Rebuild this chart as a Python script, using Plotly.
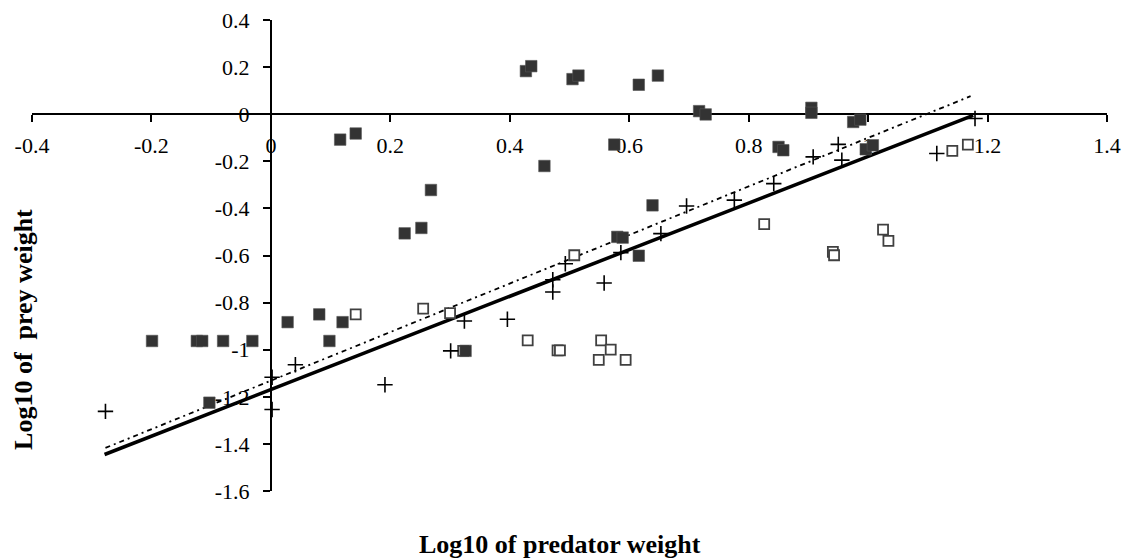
import plotly.graph_objects as go

# ---- data ----
filled_x = [0.116, 0.142, 0.427, 0.436, 0.505, 0.515, 0.616, 0.648, 0.717, 0.728,
            0.458, 0.575, 0.268, 0.224, 0.252, 0.639, 0.580, 0.589, 0.616, 0.850,
            0.858, 0.905, 0.905, 0.975, 0.987, 0.996, 1.008, -0.199, -0.124, -0.115,
            -0.080, -0.031, 0.028, 0.081, 0.120, 0.098, -0.103, 0.326]
filled_y = [-0.108, -0.082, 0.183, 0.204, 0.149, 0.164, 0.125, 0.164, 0.013, -0.001,
            -0.220, -0.129, -0.322, -0.506, -0.483, -0.387, -0.521, -0.524, -0.601, -0.139,
            -0.153, 0.027, 0.006, -0.033, -0.023, -0.149, -0.132, -0.963, -0.963, -0.963,
            -0.963, -0.963, -0.883, -0.850, -0.883, -0.963, -1.225, -1.005]

hollow_x = [0.142, 0.255, 0.300, 0.430, 0.480, 0.484, 0.553, 0.569, 0.549, 0.594,
            0.508, 0.826, 0.941, 0.943, 1.025, 1.034, 1.141, 1.167, 0.322]
hollow_y = [-0.850, -0.826, -0.845, -0.960, -1.003, -1.003, -0.960, -1.000, -1.043, -1.043,
            -0.599, -0.467, -0.585, -0.599, -0.490, -0.538, -0.156, -0.129, -1.005]

plus_x = [-0.277, 0.002, 0.002, 0.041, 0.191, 0.301, 0.324, 0.396, 0.472, 0.472,
          0.558, 0.493, 0.586, 0.653, 0.696, 0.776, 0.842, 0.908, 0.950, 0.956,
          1.115, 1.179]
plus_y = [-1.262, -1.117, -1.254, -1.064, -1.149, -1.005, -0.878, -0.871, -0.755, -0.703,
          -0.717, -0.635, -0.588, -0.507, -0.390, -0.365, -0.295, -0.181, -0.128, -0.195,
          -0.167, -0.018]

fit_solid_x = [-0.2785, 1.176]
fit_solid_y = [-1.445, -0.005]
fit_dotted_x = [-0.277, 1.1716]
fit_dotted_y = [-1.417, 0.0765]

x_tickvals = [-0.4, -0.2, 0, 0.2, 0.4, 0.6, 0.8, 1.0, 1.2, 1.4]
x_ticktext = ["-0.4", "-0.2", "0", "0.2", "0.4", "0.6", "0.8", "1", "1.2", "1.4"]
y_tickvals = [-1.6, -1.4, -1.2, -1.0, -0.8, -0.6, -0.4, -0.2, 0, 0.2, 0.4]
y_ticktext = ["-1.6", "-1.4", "-1.2", "-1", "-0.8", "-0.6", "-0.4", "-0.2", "0", "0.2", "0.4"]

x_title = "Log10 of predator weight"
y_title = "Log10 of\u00a0 prey weight"

FONT = "Liberation Serif, Times New Roman, serif"

fig = go.Figure()

fig.add_trace(go.Scatter(x=fit_dotted_x, y=fit_dotted_y, mode="lines",
                         line=dict(color="black", width=1.8, dash="5px,4px,2px,4px"),
                         hoverinfo="skip", showlegend=False))
fig.add_trace(go.Scatter(x=fit_solid_x, y=fit_solid_y, mode="lines",
                         line=dict(color="black", width=3.5),
                         hoverinfo="skip", showlegend=False))

fig.add_trace(go.Scatter(x=hollow_x, y=hollow_y, mode="markers",
                         marker=dict(symbol="square", size=10, color="white",
                                     line=dict(color="#404040", width=1.8)),
                         showlegend=False))
fig.add_trace(go.Scatter(x=filled_x, y=filled_y, mode="markers",
                         marker=dict(symbol="square", size=11.5, color="#333333",
                                     line=dict(color="#555555", width=0.6)),
                         showlegend=False))
fig.add_trace(go.Scatter(x=plus_x, y=plus_y, mode="markers",
                         marker=dict(symbol="cross-thin", size=11, color="black",
                                     line=dict(color="black", width=1.6)),
                         showlegend=False))

fig.update_layout(
    width=1129, height=559,
    margin=dict(l=32, r=22, t=20, b=68, autoexpand=False),
    paper_bgcolor="white", plot_bgcolor="white",
    font=dict(family=FONT, color="black", size=22),
    showlegend=False,
    xaxis=dict(range=[-0.4, 1.4], anchor="free", position=0.8, side="bottom",
               showline=True, linecolor="black", linewidth=2,
               ticks="outside", ticklen=7, tickwidth=2, tickcolor="black",
               tickvals=x_tickvals, ticktext=x_ticktext,
               tickfont=dict(family=FONT, size=22, color="black"),
               ticklabelstandoff=4,
               showgrid=False, zeroline=False, layer="below traces"),
    yaxis=dict(range=[-1.6, 0.4], anchor="free", position=0.4 / 1.8, side="left",
               showline=True, linecolor="black", linewidth=2,
               ticks="outside", ticklen=7, tickwidth=2, tickcolor="black",
               tickvals=y_tickvals, ticktext=y_ticktext,
               tickfont=dict(family=FONT, size=22, color="black"),
               ticklabelstandoff=9,
               showgrid=False, zeroline=False, layer="below traces"),
    annotations=[
        dict(text="<b>" + x_title + "</b>", xref="paper", yref="paper",
             x=0.4907, y=-0.1132, xanchor="center", yanchor="middle",
             showarrow=False, font=dict(family=FONT, size=26, color="black")),
        dict(text="<b>" + y_title + "</b>", xref="paper", yref="paper",
             x=-0.0086, y=0.3435, xanchor="center", yanchor="middle", textangle=-90,
             showarrow=False, font=dict(family=FONT, size=26, color="black")),
    ],
)

fig.write_html("out.html")
